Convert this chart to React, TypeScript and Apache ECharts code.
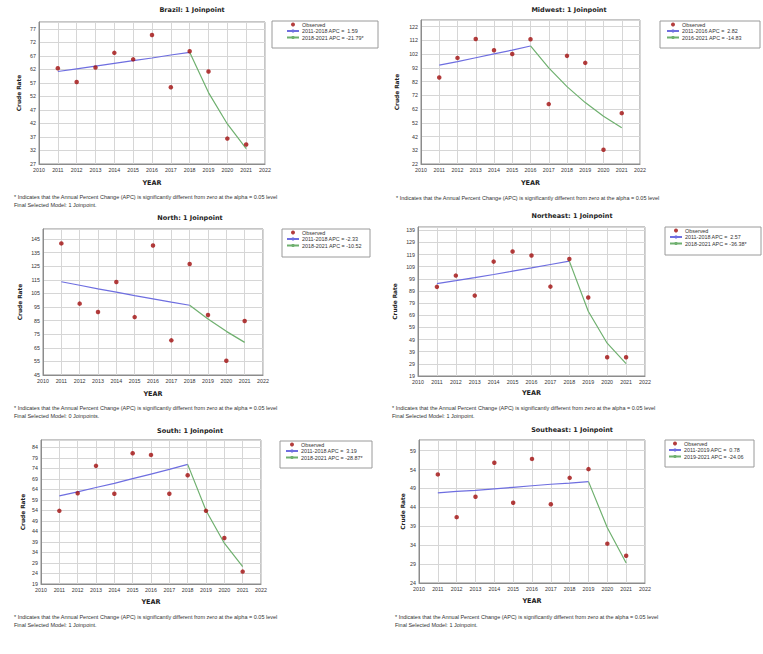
import React, { useEffect, useRef } from "react";
import * as echarts from "echarts";

// ---------- data ----------
const years = [2011, 2012, 2013, 2014, 2015, 2016, 2017, 2018, 2019, 2020, 2021];

const brazilObserved = [62.4, 57.3, 62.7, 68.1, 65.7, 74.7, 55.4, 68.7, 61.2, 36.4, 34.2];
const brazilFitA = [61.2, 62.2, 63.2, 64.2, 65.2, 66.2, 67.3, 68.3];
const brazilFitB = [68.3, 53.4, 41.8, 32.7];

const midwestObserved = [85.0, 99.2, 113.0, 104.8, 102.1, 112.8, 65.6, 100.7, 95.6, 32.4, 59.0];
const midwestFitA = [93.9, 96.5, 99.3, 102.1, 104.9, 107.9];
const midwestFitB = [107.9, 91.9, 78.3, 66.7, 56.8, 48.4];

const northObserved = [141.8, 97.5, 91.3, 113.4, 87.6, 140.3, 70.5, 126.6, 89.1, 55.5, 84.7];
const northFitA = [113.6, 111.0, 108.4, 105.9, 103.4, 101.0, 98.6, 96.3];
const northFitB = [96.3, 86.2, 77.1, 69.0];

const northeastObserved = [92.4, 101.7, 85.2, 113.2, 121.5, 118.2, 92.6, 115.4, 83.6, 34.4, 34.4];
const northeastFitA = [95.1, 97.5, 100.0, 102.6, 105.3, 108.0, 110.8, 113.6];
const northeastFitB = [113.6, 72.3, 46.0, 29.2];

const southObserved = [53.8, 62.2, 75.2, 61.9, 81.2, 80.4, 61.9, 70.7, 53.8, 40.9, 24.9];
const southFitA = [60.9, 62.8, 64.9, 66.9, 69.1, 71.3, 73.5, 75.9];
const southFitB = [75.9, 54.0, 38.4, 27.3];

const southeastObserved = [52.7, 41.4, 46.8, 55.8, 45.2, 56.8, 44.8, 51.8, 54.1, 34.4, 31.2];
const southeastFitA = [47.8, 48.2, 48.5, 48.9, 49.3, 49.7, 50.1, 50.4, 50.8];
const southeastFitB = [50.8, 38.6, 29.3];

const titles = [
  "Brazil: 1 Joinpoint",
  "Midwest: 1 Joinpoint",
  "North: 1 Joinpoint",
  "Northeast: 1 Joinpoint",
  "South: 1 Joinpoint",
  "Southeast: 1 Joinpoint",
];
const segmentLabelsA = [
  "2011-2018 APC =  1.59",
  "2011-2016 APC =  2.82",
  "2011-2018 APC = -2.33",
  "2011-2018 APC =  2.57",
  "2011-2018 APC =  3.19",
  "2011-2019 APC =  0.78",
];
const segmentLabelsB = [
  "2018-2021 APC = -21.79*",
  "2016-2021 APC = -14.83",
  "2018-2021 APC = -10.52",
  "2018-2021 APC = -36.38*",
  "2018-2021 APC = -28.87*",
  "2019-2021 APC = -24.06",
];
const joinpointYears = [2018, 2016, 2018, 2018, 2018, 2019];
const yMins = [27, 22, 45, 19, 19, 24];
const yMaxs = [79.5, 126.8, 152.4, 141.7, 87.5, 61.8];
const yIntervals = [5, 10, 10, 10, 5, 5];
const footnoteLine1 =
  "* Indicates that the Annual Percent Change (APC) is significantly different from zero at the alpha = 0.05 level";
const footnoteLine2 = [
  "Final Selected Model: 1 Joinpoint.",
  "",
  "Final Selected Model: 0 Joinpoints.",
  "Final Selected Model: 1 Joinpoint.",
  "Final Selected Model: 1 Joinpoint.",
  "Final Selected Model: 1 Joinpoint.",
];

const observedSets = [brazilObserved, midwestObserved, northObserved, northeastObserved, southObserved, southeastObserved];
const fitASets = [brazilFitA, midwestFitA, northFitA, northeastFitA, southFitA, southeastFitA];
const fitBSets = [brazilFitB, midwestFitB, northFitB, northeastFitB, southFitB, southeastFitB];

// ---------- layout (pixels) ----------
const layouts = [
  { grid: [39, 22, 226, 142], title: [192, 10], box: [272, 21, 106, 27], leg: [286, 22], foot: [14, 197], yGap: 17, xGap: 15 },
  { grid: [421, 20, 219, 144], title: [569, 10], box: [660, 21, 100, 27], leg: [666, 22], foot: [396, 198], yGap: 21, xGap: 15 },
  { grid: [43, 229, 220, 146], title: [190, 218], box: [282, 229, 88, 28], leg: [286, 230], foot: [14, 408], yGap: 20, xGap: 15 },
  { grid: [418, 227, 227, 149], title: [572, 216], box: [665, 227, 96, 28], leg: [669, 228], foot: [392, 408], yGap: 20, xGap: 13 },
  { grid: [41, 440, 220, 144], title: [190, 431], box: [280, 441, 92, 27], leg: [285, 442], foot: [14, 617], yGap: 15, xGap: 14 },
  { grid: [419, 440, 226, 143], title: [572, 430], box: [665, 440, 89, 27], leg: [668, 441], foot: [395, 617], yGap: 13, xGap: 14 },
];

const BLUE = "#6e6ee0";
const GREEN = "#6fb06f";
const RED = "#a00c0c";
const TXT = "#333";
const SANS = "Liberation Sans, Arial, sans-serif";
const BOLD = "DejaVu Sans, Verdana, sans-serif";

function buildOption() {
  const grid: any[] = [];
  const xAxis: any[] = [];
  const yAxis: any[] = [];
  const series: any[] = [];
  const legend: any[] = [];
  const graphic: any[] = [];

  layouts.forEach((L, i) => {
    const [gl, gt, gw, gh] = L.grid;
    grid.push({ left: gl, top: gt, width: gw, height: gh, show: true, borderColor: "#8c8c8c", borderWidth: 1, backgroundColor: "#fff" });
    xAxis.push({
      gridIndex: i,
      type: "value",
      min: 2010,
      max: 2022,
      interval: 1,
      name: "YEAR",
      nameLocation: "middle",
      nameGap: L.xGap,
      nameTextStyle: { fontFamily: BOLD, fontWeight: "bold", fontSize: 6.5, color: "#222" },
      axisLine: { show: true, lineStyle: { color: "#8c8c8c" } },
      axisTick: { show: false },
      axisLabel: { fontSize: 5.3, color: TXT, fontFamily: SANS, margin: 3, formatter: (v: number) => String(v) },
      splitLine: { show: true, lineStyle: { color: "#d6d6d6", width: 1 } },
    });
    yAxis.push({
      gridIndex: i,
      type: "value",
      min: yMins[i],
      max: yMaxs[i],
      interval: yIntervals[i],
      name: "Crude Rate",
      nameLocation: "middle",
      nameGap: L.yGap,
      nameTextStyle: { fontFamily: BOLD, fontWeight: "bold", fontSize: 5.8, color: "#222" },
      axisLine: { show: true, lineStyle: { color: "#8c8c8c" } },
      axisTick: { show: false },
      axisLabel: { fontSize: 5.3, color: TXT, fontFamily: SANS, margin: 3, showMaxLabel: false },
      splitLine: { show: true, lineStyle: { color: "#d6d6d6", width: 1 } },
    });
    const jp = joinpointYears[i];
    const yearsA = years.filter((y) => y <= jp);
    const yearsB = years.filter((y) => y >= jp);
    series.push({
      name: "Observed",
      type: "scatter",
      xAxisIndex: i,
      yAxisIndex: i,
      symbol: "circle",
      symbolSize: 4.5,
      itemStyle: { color: RED },
      data: years.map((y, k) => [y, observedSets[i][k]]),
      z: 3,
    });
    series.push({
      name: segmentLabelsA[i],
      type: "line",
      xAxisIndex: i,
      yAxisIndex: i,
      symbol: "none",
      lineStyle: { color: BLUE, width: 1.2 },
      itemStyle: { color: BLUE },
      data: yearsA.map((y, k) => [y, fitASets[i][k]]),
    });
    series.push({
      name: segmentLabelsB[i],
      type: "line",
      xAxisIndex: i,
      yAxisIndex: i,
      symbol: "none",
      lineStyle: { color: GREEN, width: 1.2 },
      itemStyle: { color: GREEN },
      data: yearsB.map((y, k) => [y, fitBSets[i][k]]),
    });
    legend.push({
      data: ["Observed", segmentLabelsA[i], segmentLabelsB[i]],
      orient: "vertical",
      left: L.leg[0],
      top: L.leg[1],
      itemWidth: 12,
      itemHeight: 4,
      itemGap: 1.5,
      padding: 0,
      selectedMode: false,
      textStyle: { fontSize: 5.4, color: TXT, fontFamily: SANS, padding: [0, 0, 0, -2] },
    });
    const [bx, by, bw, bh] = L.box;
    graphic.push({
      type: "rect",
      shape: { x: bx, y: by, width: bw, height: bh },
      style: { fill: "#fff", stroke: "#9a9a9a", lineWidth: 1 },
      z: -1,
    });
    graphic.push({
      type: "text",
      x: L.title[0],
      y: L.title[1],
      style: {
        text: titles[i],
        fontFamily: BOLD,
        fontWeight: "bold",
        fontSize: 6.5,
        fill: "#222",
        align: "center",
        verticalAlign: "middle",
        textAlign: "center",
        textVerticalAlign: "middle",
      },
    });
    graphic.push({
      type: "text",
      x: L.foot[0],
      y: L.foot[1],
      style: {
        text: footnoteLine1,
        fontFamily: SANS,
        fontSize: 5.5,
        fill: TXT,
        align: "left",
        verticalAlign: "middle",
        textAlign: "left",
        textVerticalAlign: "middle",
      },
    });
    if (footnoteLine2[i]) {
      graphic.push({
        type: "text",
        x: L.foot[0],
        y: L.foot[1] + 8,
        style: {
          text: footnoteLine2[i],
          fontFamily: SANS,
          fontSize: 5.5,
          fill: TXT,
          align: "left",
          verticalAlign: "middle",
          textAlign: "left",
          textVerticalAlign: "middle",
        },
      });
    }
  });

  return {
    animation: false,
    backgroundColor: "#fff",
    grid,
    xAxis,
    yAxis,
    series,
    legend,
    graphic,
  };
}

export default function App() {
  const ref = useRef<HTMLDivElement>(null);
  useEffect(() => {
    if (!ref.current) return;
    const chart = echarts.init(ref.current, undefined, { renderer: "svg" });
    chart.setOption(buildOption() as any);
    return () => chart.dispose();
  }, []);
  return (
    <div
      ref={ref}
      style={{ position: "fixed", left: 0, top: 0, width: 763, height: 654, background: "#fff" }}
    />
  );
}
